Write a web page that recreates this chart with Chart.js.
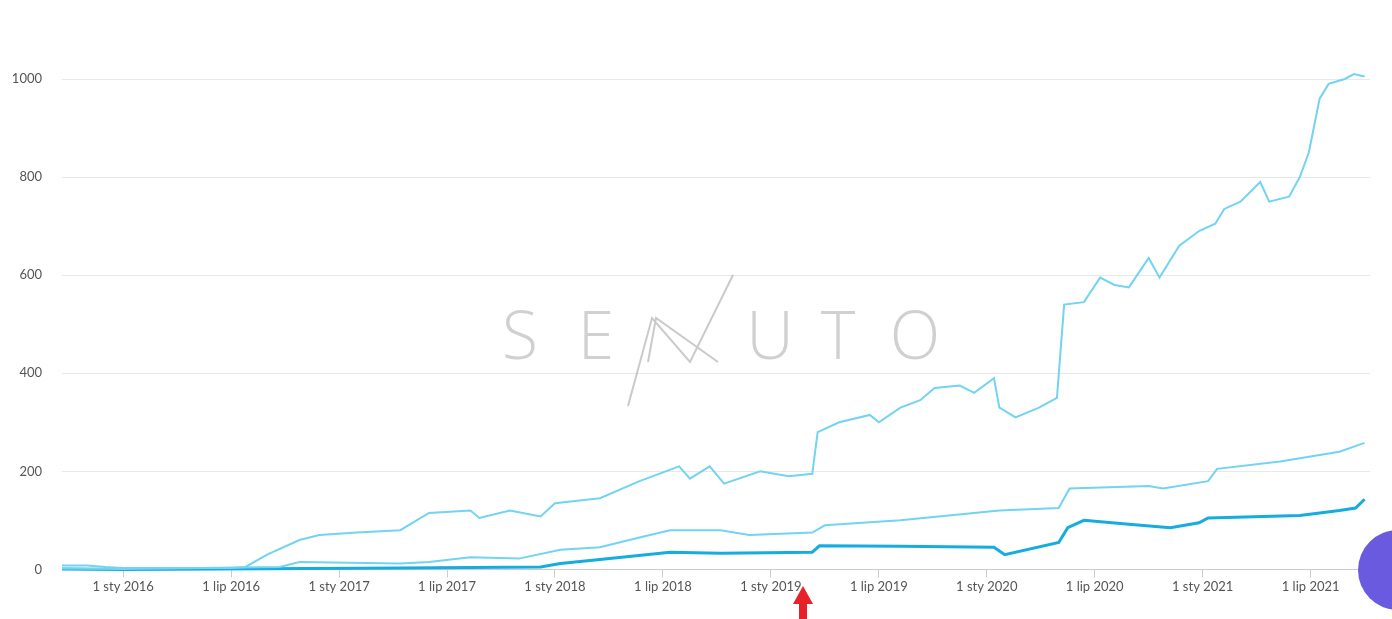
<!DOCTYPE html>
<html><head><meta charset="utf-8">
<script src="https://cdn.jsdelivr.net/npm/chart.js@4/dist/chart.umd.min.js"></script>
<style>html,body{margin:0;padding:0;background:#fff}#w{width:1392px;height:619px}</style>
</head><body><div id="w"><canvas id="c"></canvas></div>
<script>
// x = months since 1 Jan 2016
const tickPositions = [0,6,12,18,24,30,36,42,48,54,60,66];
const tickLabels = ['1 sty 2016','1 lip 2016','1 sty 2017','1 lip 2017','1 sty 2018','1 lip 2018','1 sty 2019','1 lip 2019','1 sty 2020','1 lip 2020','1 sty 2021','1 lip 2021'];
const topX = [-3.4,-2,-1,0,6,6.8,8,9.8,10.9,13,15.4,17,19.3,19.8,21.5,23.2,24,26.5,28.7,30.9,31.5,32.6,33.4,35.4,37,38.3,38.6,39.8,41.5,42,43.2,44.3,45.1,46.5,47.3,48.4,48.7,49.6,50.9,51.9,52.3,53.4,54.3,55.1,55.9,57,57.6,58.7,59.8,60.7,61.2,62.1,63.2,63.7,64.8,65.4,65.9,66.5,67,67.9,68.4,69];
const topY = [8,8,5,3,3,5,30,60,70,75,80,115,120,105,120,108,135,145,180,210,185,210,175,200,190,195,280,300,315,300,330,345,370,375,360,390,330,310,330,350,540,545,595,580,575,635,595,660,690,705,735,750,790,750,760,800,850,960,990,1000,1010,1005];
const midX = [-3.4,0,8.7,9.8,15.4,17,19.3,22,24.3,26.5,28.7,30.4,33.2,34.8,38.3,39,43.2,48.7,52,52.6,57,57.8,60.3,60.8,64.3,67.6,69];
const midY = [2,1,5,15,12,15,25,22,40,45,65,80,80,70,75,90,100,120,125,165,170,165,180,205,220,240,258];
const lowX = [-3.4,0,15.4,23.2,24.3,26.5,30.4,33.2,38.3,38.7,43.2,48.4,49,52,52.5,53.4,55.9,58.2,59.8,60.3,65.4,67.6,68.5,69];
const lowY = [1,0,3,5,12,20,35,33,35,48,47,45,30,55,85,100,92,85,95,105,110,120,125,143];
const pts=(xs,ys)=>xs.map((x,i)=>({x,y:ys[i]}));
const deco={id:'deco',beforeDatasetsDraw(ch){const c=ch.ctx;c.save();
 c.font='300 66px "Open Sans"';c.fillStyle='rgba(150,150,150,0.45)';c.textBaseline='middle';c.textAlign='center';
 [['S',520],['E',596],['U',770],['T',838],['O',915]].forEach(([l,x])=>c.fillText(l,x,340));
 c.strokeStyle='rgba(150,150,150,0.5)';c.lineWidth=2;c.beginPath();
 c.moveTo(628,406);c.lineTo(652,318);c.lineTo(690,362);c.lineTo(733,275);c.moveTo(648,362);c.lineTo(656,318);c.lineTo(718,362);c.stroke();c.restore();},
 afterDraw(ch){const c=ch.ctx;c.save();c.fillStyle='#e8202a';c.beginPath();c.moveTo(803,586);c.lineTo(813,604);c.lineTo(807,604);c.lineTo(807,619);c.lineTo(799,619);c.lineTo(799,604);c.lineTo(793,604);c.closePath();c.fill();
 c.fillStyle='#6a5ae0';c.beginPath();c.arc(1398,570,40,0,Math.PI*2);c.fill();c.restore();}};
new Chart(document.getElementById('c'),{type:'line',
 data:{datasets:[
  {data:pts(topX,topY),borderColor:'#72d3f2',borderWidth:2,pointRadius:0,tension:0,clip:false},
  {data:pts(midX,midY),borderColor:'#72d3f2',borderWidth:2,pointRadius:0,tension:0,clip:false},
  {data:pts(lowX,lowY),borderColor:'#15acdf',borderWidth:3,pointRadius:0,tension:0,clip:false}]},
 options:{responsive:true,maintainAspectRatio:false,animation:false,
  layout:{padding:{top:79,right:22,bottom:22,left:0}},
  plugins:{legend:{display:false},tooltip:{enabled:false}},
  scales:{
   x:{type:'linear',min:-3.4,max:69.3,
    afterBuildTicks:s=>{s.ticks=tickPositions.map(v=>({value:v}));},
    ticks:{autoSkip:false,maxRotation:0,color:'#555',font:{family:'Lato',size:13},padding:2,callback:v=>tickLabels[tickPositions.indexOf(v)]},
    grid:{drawOnChartArea:false,tickLength:8,color:'#ccc'},border:{color:'#ccc'}},
   y:{min:0,max:1000,afterFit:s=>{s.width=62;},
    ticks:{stepSize:200,color:'#555',font:{family:'Lato',size:13},padding:20,callback:v=>String(v)},
    grid:{color:'#e8e8e8',drawTicks:false},border:{display:false}}}},
 plugins:[deco]});
</script></body></html>
